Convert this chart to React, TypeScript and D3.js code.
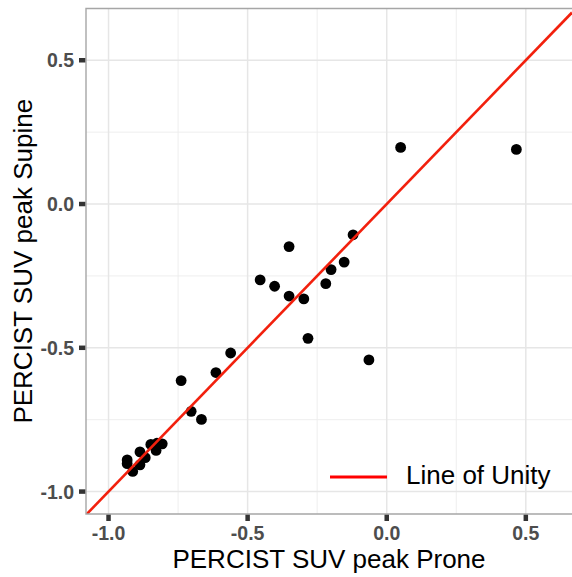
import * as d3 from 'd3';

// Values
const prone = [
  -0.933, -0.933, -0.913, -0.887, -0.887, -0.868, -0.848, -0.829, -0.826, -0.807,
  -0.739, -0.703, -0.666, -0.614, -0.561, -0.455, -0.403, -0.351, -0.351, -0.298,
  -0.283, -0.219, -0.2, -0.153, -0.121, -0.064, 0.05, 0.466,
];
const supine = [
  -0.89, -0.903, -0.93, -0.862, -0.907, -0.882, -0.836, -0.857, -0.832, -0.834,
  -0.614, -0.721, -0.749, -0.586, -0.518, -0.264, -0.286, -0.148, -0.32, -0.33,
  -0.467, -0.277, -0.228, -0.202, -0.107, -0.542, 0.197, 0.19,
];
const majorTicks = [-1.0, -0.5, 0.0, 0.5];
const minorTicks = [-0.75, -0.25, 0.25];
const xTitle = 'PERCIST SUV peak Prone';
const yTitle = 'PERCIST SUV peak Supine';
const legendLabel = 'Line of Unity';

const W = 572;
const H = 577;
const panel = { left: 86, right: 572, top: 8.5, bottom: 514 };
const FONT = '"Liberation Sans", Arial, Helvetica, sans-serif';

export default function App() {
  const x = d3.scaleLinear().domain([-1.081, 0.666]).range([panel.left, panel.right]);
  const y = d3.scaleLinear().domain([-1.078, 0.68]).range([panel.bottom, panel.top]);

  const points = prone.map((p, i) => ({ p, s: supine[i] }));
  const [u0, u1] = x.domain();
  const unity = d3.line<number>().x(v => x(v)).y(v => y(v))([u0, u1]) || '';

  return (
    <svg
      width={W}
      height={H}
      style={{ position: 'absolute', left: 0, top: 0, display: 'block', background: '#fff' }}
      fontFamily={FONT}
    >
      <defs>
        <clipPath id="panel">
          <rect x={panel.left} y={panel.top} width={panel.right - panel.left} height={panel.bottom - panel.top} />
        </clipPath>
      </defs>

      {/* grid */}
      <g clipPath="url(#panel)">
        {minorTicks.map(t => (
          <g key={'mn' + t}>
            <line x1={x(t)} x2={x(t)} y1={panel.top} y2={panel.bottom} stroke="#ececec" strokeWidth={0.9} />
            <line x1={panel.left} x2={panel.right} y1={y(t)} y2={y(t)} stroke="#ececec" strokeWidth={0.9} />
          </g>
        ))}
        {majorTicks.map(t => (
          <g key={'mj' + t}>
            <line x1={x(t)} x2={x(t)} y1={panel.top} y2={panel.bottom} stroke="#e6e6e6" strokeWidth={1.5} />
            <line x1={panel.left} x2={panel.right} y1={y(t)} y2={y(t)} stroke="#e6e6e6" strokeWidth={1.5} />
          </g>
        ))}

        {points.map((d, i) => (
          <circle key={i} cx={x(d.p)} cy={y(d.s)} r={5.4} fill="#000" />
        ))}

        <path d={unity} stroke="#f2200d" strokeWidth={2.6} fill="none" />
      </g>

      {/* panel border */}
      <path
        d={`M${panel.right + 2},${panel.top}H${panel.left}V${panel.bottom}H${panel.right + 2}`}
        fill="none"
        stroke="#a6a6a6"
        strokeWidth={1.4}
      />

      {/* ticks and tick labels */}
      {majorTicks.map(t => (
        <g key={'xt' + t}>
          <line x1={x(t)} x2={x(t)} y1={panel.bottom + 0.7} y2={panel.bottom + 7} stroke="#333" strokeWidth={4.5} />
          <text x={x(t)} y={540} textAnchor="middle" fontSize={19.5} fontWeight="bold" fill="#4d4d4d">
            {t.toFixed(1)}
          </text>
        </g>
      ))}
      {majorTicks.map(t => (
        <g key={'yt' + t}>
          <line x1={panel.left - 7} x2={panel.left - 0.7} y1={y(t)} y2={y(t)} stroke="#333" strokeWidth={4.5} />
          <text x={74} y={y(t)} dy="0.36em" textAnchor="end" fontSize={19.5} fontWeight="bold" fill="#4d4d4d">
            {t.toFixed(1)}
          </text>
        </g>
      ))}

      {/* axis titles */}
      <text x={(panel.left + panel.right) / 2} y={568} textAnchor="middle" fontSize={26} fill="#000">
        {xTitle}
      </text>
      <text
        transform={`translate(31.5,${(panel.top + panel.bottom) / 2}) rotate(-90)`}
        textAnchor="middle"
        fontSize={26}
        fill="#000"
      >
        {yTitle}
      </text>

      {/* legend */}
      <line x1={330} x2={387} y1={477} y2={477} stroke="#ff0000" strokeWidth={3} />
      <text x={406} y={483.5} fontSize={26} fill="#000">
        {legendLabel}
      </text>
    </svg>
  );
}
